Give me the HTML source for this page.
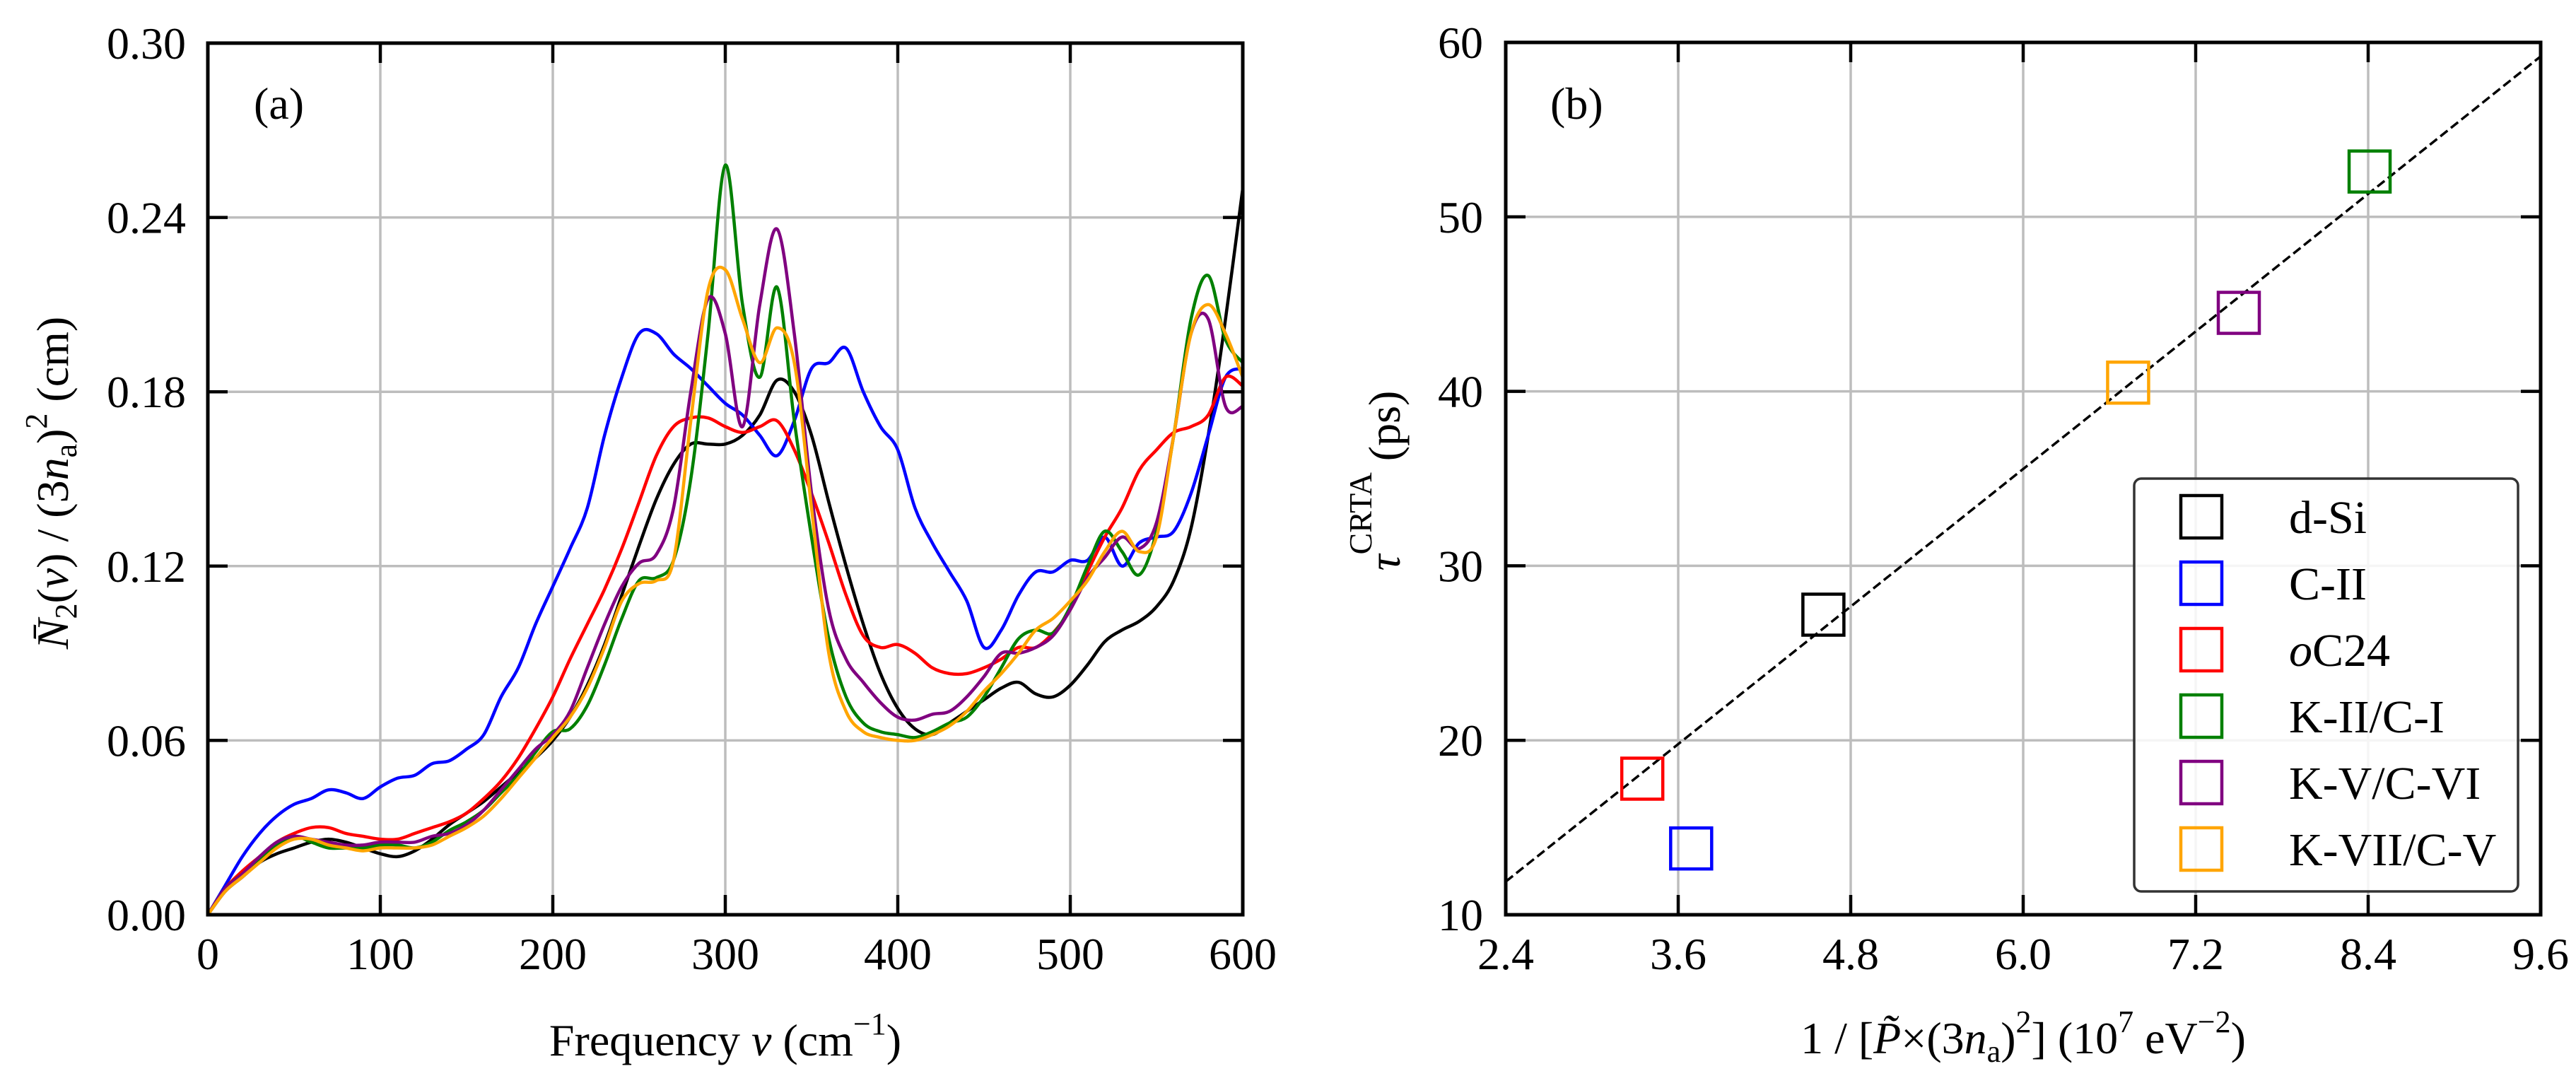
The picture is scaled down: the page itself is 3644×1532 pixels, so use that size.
<!DOCTYPE html>
<html><head><meta charset="utf-8">
<style>
html,body{margin:0;padding:0;background:#fff;}
svg{display:block;font-family:"Liberation Serif","DejaVu Serif",serif;}
</style></head>
<body>
<svg id="fig" width="3644" height="1532" viewBox="0 0 3644 1532" xmlns="http://www.w3.org/2000/svg">
<rect width="3644" height="1532" fill="#fff"/>
<g id="panelA"></g>
<g id="panelB"></g>
</svg>
<script>
// ---------- Panel (a) data ----------
const freqs = [0,10,20,30,40,50,60,70,80,90,100,110,120,130,140,150,160,170,180,190,200,210,220,230,240,250,260,270,280,290,300,310,320,330,340,350,360,370,380,390,400,410,420,430,440,450,460,470,480,490,500,510,520,530,540,550,560,570,580,590,600];
const dSi = [0,.008,.013,.018,.021,.023,.025,.026,.025,.023,.021,.020,.022,.026,.031,.035,.039,.044,.049,.054,.060,.068,.079,.093,.110,.127,.143,.155,.162,.162,.162,.165,.172,.184,.180,.165,.142,.120,.100,.083,.071,.064,.062,.066,.070,.074,.078,.080,.076,.075,.079,.086,.094,.098,.101,.106,.115,.133,.165,.205,.250];
const cII = [0,.010,.020,.028,.034,.038,.040,.043,.042,.040,.044,.047,.048,.052,.053,.057,.062,.075,.085,.100,.113,.126,.140,.165,.185,.200,.200,.193,.188,.182,.176,.172,.165,.158,.170,.188,.190,.195,.180,.168,.160,.140,.128,.118,.108,.092,.098,.110,.118,.118,.122,.122,.130,.120,.128,.130,.132,.145,.165,.185,.188];
const oC24 = [0,.009,.015,.020,.025,.028,.030,.030,.028,.027,.026,.026,.028,.030,.032,.035,.040,.046,.054,.064,.075,.088,.100,.112,.126,.142,.158,.168,.171,.171,.168,.166,.168,.170,.160,.145,.128,.110,.096,.092,.093,.090,.085,.083,.083,.085,.088,.092,.092,.097,.105,.118,.130,.140,.153,.160,.166,.168,.172,.185,.182];
const kII = [0,.009,.014,.019,.024,.027,.025,.023,.023,.023,.024,.024,.023,.025,.029,.032,.036,.042,.048,.056,.063,.064,.072,.086,.102,.115,.116,.122,.150,.200,.258,.210,.185,.216,.170,.130,.095,.075,.066,.063,.062,.061,.063,.066,.068,.075,.085,.095,.098,.097,.106,.120,.132,.125,.117,.132,.165,.205,.220,.198,.190];
const kV = [0,.009,.014,.020,.025,.027,.026,.025,.024,.024,.025,.025,.025,.027,.028,.031,.036,.043,.050,.057,.062,.070,.085,.100,.113,.121,.124,.140,.180,.212,.200,.168,.210,.236,.200,.145,.105,.088,.080,.073,.068,.067,.069,.070,.075,.082,.090,.090,.092,.096,.105,.116,.123,.130,.126,.135,.165,.200,.205,.175,.175];
const kVII = [0,.008,.013,.018,.023,.026,.026,.024,.023,.022,.023,.023,.023,.024,.027,.030,.034,.040,.047,.054,.061,.068,.078,.092,.108,.114,.115,.122,.170,.215,.222,.205,.190,.202,.190,.140,.090,.070,.063,.061,.060,.060,.062,.065,.070,.077,.083,.090,.098,.102,.108,.115,.125,.132,.125,.130,.165,.200,.210,.200,.185];
const xTicksA = [0,100,200,300,400,500,600];
const xTickLabelsA = ["0","100","200","300","400","500","600"];
const yTicksA = [0,0.06,0.12,0.18,0.24,0.30];
const yTickLabelsA = ["0.00","0.06","0.12","0.18","0.24","0.30"];

// ---------- Panel (b) data ----------
const materials = ["d-Si","C-II","oC24","K-II/C-I","K-V/C-VI","K-VII/C-V"];
const invP = [4.61,3.69,3.35,8.41,7.50,6.73];
const tauCRTA = [27.2,13.8,17.8,52.6,44.5,40.5];
const fitX = [2.4,9.6];
const fitY = [11.9,59.2];
const xTicksB = [2.4,3.6,4.8,6.0,7.2,8.4,9.6];
const xTickLabelsB = ["2.4","3.6","4.8","6.0","7.2","8.4","9.6"];
const yTicksB = [10,20,30,40,50,60];
const yTickLabelsB = ["10","20","30","40","50","60"];

const colors = ["#000000","#0000ff","#ff0000","#008000","#800080","#ffa500"];
const seriesA = [dSi,cII,oC24,kII,kV,kVII];
const NS = "http://www.w3.org/2000/svg";
function mk(tag, attrs, parent){const e=document.createElementNS(NS,tag);for(const k in attrs)e.setAttribute(k,attrs[k]);parent.appendChild(e);return e;}
function smoothPath(pts){
  let d='M'+pts[0][0].toFixed(1)+','+pts[0][1].toFixed(1);
  for(let i=0;i<pts.length-1;i++){
    const p0=pts[Math.max(0,i-1)],p1=pts[i],p2=pts[i+1],p3=pts[Math.min(pts.length-1,i+2)];
    const c1x=p1[0]+(p2[0]-p0[0])/6,c1y=p1[1]+(p2[1]-p0[1])/6;
    const c2x=p2[0]-(p3[0]-p1[0])/6,c2y=p2[1]-(p3[1]-p1[1])/6;
    d+=' C'+c1x.toFixed(1)+','+c1y.toFixed(1)+' '+c2x.toFixed(1)+','+c2y.toFixed(1)+' '+p2[0].toFixed(1)+','+p2[1].toFixed(1);
  }
  return d;
}

const FS = 64;
const TICK = 28;

// ---------- Panel (a) ----------
const A = {x0:294,x1:1758,y0:1294,y1:61};
const ax = v => A.x0 + (v-0)/(600-0)*(A.x1-A.x0);
const ay = v => A.y0 - (v-0)/(0.30-0)*(A.y0-A.y1);
const gA = document.getElementById('panelA');

xTicksA.forEach((t,i)=>{
  const x=ax(t);
  const g=mk('line',{x1:x,x2:x,y1:A.y1,y2:A.y0,stroke:'#bdbdbd','stroke-width':3.5},gA);
  
  
});
yTicksA.forEach((t,i)=>{
  const y=ay(t);
  const g=mk('line',{x1:A.x0,x2:A.x1,y1:y,y2:y,stroke:'#bdbdbd','stroke-width':3.5},gA);
  
  
});
const clipA = mk('clipPath',{id:'clipA'},gA);
mk('rect',{x:A.x0,y:A.y1,width:A.x1-A.x0,height:A.y0-A.y1},clipA);
const seriesNames=["d-si-line","c-ii-line","oc24-line","k-ii-c-i-line","k-v-c-vi-line","k-vii-c-v-line"];
seriesA.forEach((s,si)=>{
  const pts=s.map((v,i)=>[ax(freqs[i]),ay(v)]);
  const p=mk('path',{d:smoothPath(pts),fill:'none',stroke:colors[si],'stroke-width':4.5,'stroke-linejoin':'round','clip-path':'url(#clipA)'},gA);
  
  
});
xTicksA.forEach((t,i)=>{
  const x=ax(t);
  const a=mk('line',{x1:x,x2:x,y1:A.y0,y2:A.y0-TICK,stroke:'#000','stroke-width':4.5},gA);
  
  
  const b=mk('line',{x1:x,x2:x,y1:A.y1,y2:A.y1+TICK,stroke:'#000','stroke-width':4.5},gA);
  
  
  const tx=mk('text',{x:x,y:1371,'text-anchor':'middle','font-size':FS},gA);
  tx.textContent=xTickLabelsA[i];
  
  
});
yTicksA.forEach((t,i)=>{
  const y=ay(t);
  const a=mk('line',{x1:A.x0,x2:A.x0+TICK,y1:y,y2:y,stroke:'#000','stroke-width':4.5},gA);
  
  
  const b=mk('line',{x1:A.x1,x2:A.x1-TICK,y1:y,y2:y,stroke:'#000','stroke-width':4.5},gA);
  
  
  const tx=mk('text',{x:A.x0-31,y:y+22,'text-anchor':'end','font-size':FS},gA);
  tx.textContent=yTickLabelsA[i];
  
  
});
const frA=mk('rect',{x:A.x0,y:A.y1,width:A.x1-A.x0,height:A.y0-A.y1,fill:'none',stroke:'#000','stroke-width':5},gA);



// ---------- Panel (b) ----------
const B = {x0:2130,x1:3594,y0:1294,y1:60};
const bx = v => B.x0 + (v-2.4)/(9.6-2.4)*(B.x1-B.x0);
const by = v => B.y0 - (v-10)/(60-10)*(B.y0-B.y1);
const gB = document.getElementById('panelB');
xTicksB.forEach((t,i)=>{
  const x=bx(t);
  const g=mk('line',{x1:x,x2:x,y1:B.y1,y2:B.y0,stroke:'#bdbdbd','stroke-width':3.5},gB);
  
  
});
yTicksB.forEach((t,i)=>{
  const y=by(t);
  const g=mk('line',{x1:B.x0,x2:B.x1,y1:y,y2:y,stroke:'#bdbdbd','stroke-width':3.5},gB);
  
  
});
const fit=mk('line',{x1:bx(fitX[0]),y1:by(fitY[0]),x2:bx(fitX[1]),y2:by(fitY[1]),stroke:'#000','stroke-width':3.5,'stroke-dasharray':'13,6'},gB);


const MS=58;
materials.forEach((m,i)=>{
  const r=mk('rect',{x:bx(invP[i])-MS/2,y:by(tauCRTA[i])-MS/2,width:MS,height:MS,fill:'none',stroke:colors[i],'stroke-width':4.5},gB);
  
  
});
xTicksB.forEach((t,i)=>{
  const x=bx(t);
  const a=mk('line',{x1:x,x2:x,y1:B.y0,y2:B.y0-TICK,stroke:'#000','stroke-width':4.5},gB);
  
  
  const b=mk('line',{x1:x,x2:x,y1:B.y1,y2:B.y1+TICK,stroke:'#000','stroke-width':4.5},gB);
  
  
  const tx=mk('text',{x:x,y:1371,'text-anchor':'middle','font-size':FS},gB);
  tx.textContent=xTickLabelsB[i];
  
  
});
yTicksB.forEach((t,i)=>{
  const y=by(t);
  const a=mk('line',{x1:B.x0,x2:B.x0+TICK,y1:y,y2:y,stroke:'#000','stroke-width':4.5},gB);
  
  
  const b=mk('line',{x1:B.x1,x2:B.x1-TICK,y1:y,y2:y,stroke:'#000','stroke-width':4.5},gB);
  
  
  const tx=mk('text',{x:B.x0-32,y:y+22,'text-anchor':'end','font-size':FS},gB);
  tx.textContent=yTickLabelsB[i];
  
  
});
const lg=mk('g',{},gB);


const lb=mk('rect',{x:3019,y:677,width:543,height:584,rx:10,ry:10,fill:'#fff','fill-opacity':0.85,stroke:'#333','stroke-width':3.5},lg);


materials.forEach((m,i)=>{
  const cy=731+i*94;
  const r=mk('rect',{x:3085,y:cy-30,width:58,height:60,fill:'none',stroke:colors[i],'stroke-width':4.5},lg);
  
  
  const t=mk('text',{x:3238,y:cy+23,'font-size':66},lg);
  
  
  if(m==='oC24'){t.innerHTML='<tspan font-style="italic">o</tspan>C24';}else{t.textContent=m;}
});
const frB=mk('rect',{x:B.x0,y:B.y1,width:B.x1-B.x0,height:B.y0-B.y1,fill:'none',stroke:'#000','stroke-width':5},gB);


</script>
<script>
(function(){
const svg=document.getElementById('fig');
const NS="http://www.w3.org/2000/svg";
function add(html){const g=document.createElementNS(NS,'g');g.innerHTML=html;svg.appendChild(g);return g;}
add('<text x="359" y="168" font-size="64">(a)</text>'+
'<text x="2193" y="168" font-size="64">(b)</text>'+
'<text x="1026" y="1493" font-size="64" text-anchor="middle">Frequency <tspan font-style="italic">v</tspan> (cm<tspan dy="-30" font-size="44">−1</tspan><tspan dy="30">)</tspan></text>'+
'<text x="2862" y="1490" font-size="64" text-anchor="middle">1 / [<tspan font-style="italic">P̃</tspan>×(3<tspan font-style="italic">n</tspan><tspan dy="12" font-size="44">a</tspan><tspan dy="-12">)</tspan><tspan dy="-30" font-size="44">2</tspan><tspan dy="30">] (10</tspan><tspan dy="-30" font-size="44">7</tspan><tspan dy="30"> eV</tspan><tspan dy="-30" font-size="44">−2</tspan><tspan dy="30">)</tspan></text>'+
'<text transform="translate(96,683) rotate(-90)" font-size="64" text-anchor="middle"><tspan font-style="italic">N̄</tspan><tspan dy="12" font-size="44">2</tspan><tspan dy="-12">(</tspan><tspan font-style="italic">v</tspan>) / (3<tspan font-style="italic">n</tspan><tspan dy="12" font-size="44">a</tspan><tspan dy="-12">)</tspan><tspan dy="-30" font-size="44">2</tspan><tspan dy="30"> (cm)</tspan></text>'+
'<text transform="translate(1980,680) rotate(-90)" font-size="64" text-anchor="middle"><tspan font-style="italic">τ</tspan><tspan dy="-40" font-size="46">CRTA</tspan><tspan dy="40"> (ps)</tspan></text>');
})();
</script>
</body></html>
